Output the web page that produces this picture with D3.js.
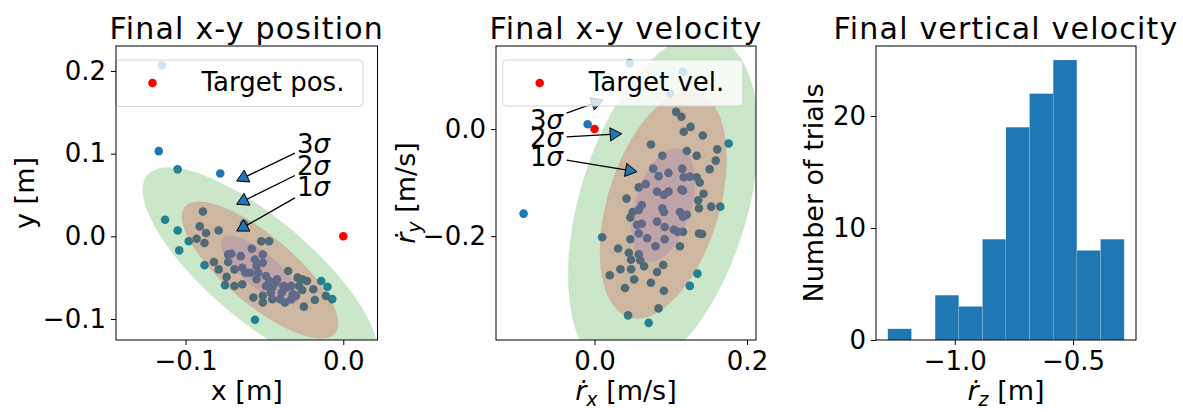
<!DOCTYPE html>
<html>
<head>
<meta charset="utf-8">
<script src="https://cdn.jsdelivr.net/npm/d3@7"></script>
<style>
  body { margin: 0; background: #fff; }
  svg { display: block; font-family: "DejaVu Sans", sans-serif; }
</style>
</head>
<body>
<svg id="fig" width="1183" height="412"></svg>
<script>
// final x-y position of every trial [m]
const posX = [-0.115, -0.117, -0.105, -0.078, -0.113, -0.105, -0.104, -0.098, -0.093, -0.088,
  -0.089, -0.091, -0.087, -0.079, -0.088, -0.082, -0.079, -0.073, -0.074, -0.075,
  -0.069, -0.064, -0.073, -0.071, -0.065, -0.069, -0.062, -0.058, -0.056, -0.051,
  -0.052, -0.047, -0.055, -0.051, -0.054, -0.049, -0.055, -0.049, -0.045, -0.046,
  -0.043, -0.039, -0.040, -0.037, -0.036, -0.035, -0.033, -0.032, -0.029, -0.028,
  -0.026, -0.023, -0.030, -0.033, -0.057, -0.051, -0.051, -0.045, -0.025, -0.019,
  -0.018, -0.014, -0.010, -0.011, -0.007, -0.056, -0.063, -0.026, -0.047, -0.042,
  -0.038, -0.059, -0.064];
const posY = [0.207, 0.103, 0.081, 0.076, 0.020, 0.007, -0.017, -0.006, -0.003, -0.008,
  0.030, 0.012, 0.004, 0.007, -0.035, -0.031, -0.040, -0.031, -0.049, -0.059,
  -0.060, -0.058, -0.022, -0.021, -0.024, -0.040, -0.044, -0.015, -0.028, -0.022,
  -0.006, -0.006, -0.036, -0.032, -0.044, -0.048, -0.052, -0.060, -0.062, -0.068,
  -0.056, -0.068, -0.076, -0.080, -0.062, -0.042, -0.060, -0.070, -0.050, -0.060,
  -0.052, -0.054, -0.072, -0.076, -0.074, -0.072, -0.080, -0.076, -0.085, -0.064,
  -0.077, -0.054, -0.061, -0.072, -0.076, -0.101, 0.015, -0.065, -0.054, -0.052,
  -0.060, -0.044, -0.038];

// final x-y velocity of every trial [m/s]
const velX = [0.046, 0.116, 0.099, -0.009, -0.093, 0.176, 0.107, 0.114, 0.126, 0.117,
  0.142, 0.074, 0.161, 0.121, 0.134, 0.159, 0.089, 0.077, 0.151, 0.115,
  0.097, 0.084, 0.117, 0.125, 0.134, 0.138, 0.067, 0.058, 0.082, 0.097,
  0.114, 0.116, 0.042, 0.143, 0.136, 0.153, 0.165, 0.137, 0.062, 0.058,
  0.050, 0.047, 0.056, 0.062, 0.082, 0.089, 0.091, 0.092, 0.104, 0.112,
  0.116, 0.121, 0.109, 0.116, 0.137, 0.141, 0.092, 0.069, 0.080, 0.112,
  0.047, 0.010, 0.031, 0.045, 0.048, 0.058, 0.060, 0.065, 0.034, 0.048,
  0.020, 0.082, 0.090, 0.052, 0.074, 0.040, 0.091, 0.125, 0.135, 0.084,
  0.044, 0.071, 0.058, 0.091];
const velY = [0.123, 0.107, 0.067, 0.009, -0.158, -0.027, 0.032, 0.023, 0.004, -0.005,
  -0.012, -0.029, -0.038, -0.041, -0.050, -0.059, -0.050, -0.074, -0.075, -0.074,
  -0.082, -0.088, -0.090, -0.089, -0.090, -0.100, -0.103, -0.109, -0.117, -0.117,
  -0.113, -0.115, -0.130, -0.121, -0.133, -0.145, -0.145, -0.148, -0.142, -0.151,
  -0.155, -0.165, -0.179, -0.177, -0.173, -0.148, -0.155, -0.183, -0.188, -0.155,
  -0.164, -0.160, -0.192, -0.192, -0.195, -0.196, -0.206, -0.204, -0.219, -0.219,
  -0.206, -0.202, -0.223, -0.231, -0.244, -0.234, -0.245, -0.256, -0.262, -0.262,
  -0.273, -0.267, -0.254, -0.281, -0.287, -0.297, -0.302, -0.293, -0.270, -0.335,
  -0.348, -0.362, -0.195, -0.123];

const targetPos = [0.0, 0.0];
const targetVel = [0.0, 0.0];

// sigma ellipses (mean, std, correlation)
const posMean = [-0.0528, -0.0408], posStd = [0.0248, 0.0414], posCorr = -0.78;
const velMean = [0.0902, -0.142], velStd = [0.0416, 0.106], velCorr = 0.41;
const sigmas = [3, 2, 1];
const sigmaColors = ["#2ca02c", "#d62728", "#9467bd"];

// annotations: text baseline x,y and arrow tip x,y (data units)
const posNotes = [
  { n: 3, tx: -0.0294, ty: 0.1008, ax: -0.0676, ay: 0.0669 },
  { n: 2, tx: -0.0294, ty: 0.0742, ax: -0.0676, ay: 0.0387 },
  { n: 1, tx: -0.0294, ty: 0.0488, ax: -0.0676, ay: 0.0064 }
];
const velNotes = [
  { n: 3, tx: -0.0846, ty: 0.0, ax: 0.0111, ay: 0.0542 },
  { n: 2, tx: -0.0846, ty: -0.0336, ax: 0.0357, ay: -0.0088 },
  { n: 1, tx: -0.0846, ty: -0.0692, ax: 0.0557, ay: -0.0798 }
];

// histogram of final vertical velocity
const binEdges = [-1.283, -1.183, -1.083, -0.983, -0.883, -0.784, -0.684, -0.584, -0.484, -0.384, -0.284];
const binCounts = [1, 0, 4, 3, 9, 19, 22, 25, 8, 9];

const posTicksX = [-0.1, 0.0], posTicksY = [-0.1, 0.0, 0.1, 0.2];
const velTicksX = [0.0, 0.2], velTicksY = [-0.2, 0.0];
const histTicksX = [-1.0, -0.5], histTicksY = [0, 10, 20];

const C0 = "#1f77b4";
const svg = d3.select("#fig");

function makePanel(id, box, xDom, yDom) {
  const x = d3.scaleLinear().domain(xDom).range([box.l, box.r]);
  const y = d3.scaleLinear().domain(yDom).range([box.b, box.t]);
  svg.append("clipPath").attr("id", id).append("rect")
    .attr("x", box.l).attr("y", box.t)
    .attr("width", box.r - box.l).attr("height", box.b - box.t);
  const plot = svg.append("g").attr("clip-path", `url(#${id})`);
  return { box, x, y, plot };
}

function drawAxes(p, xTicks, yTicks, fmtX, fmtY) {
  const b = p.box;
  svg.append("g")
    .attr("transform", `translate(0,${b.b})`)
    .call(d3.axisBottom(p.x).tickValues(xTicks).tickSize(5).tickPadding(7).tickFormat(fmtX))
    .call(g => g.select(".domain").remove())
    .attr("font-size", 26).attr("font-family", null);
  svg.append("g")
    .attr("transform", `translate(${b.l},0)`)
    .call(d3.axisLeft(p.y).tickValues(yTicks).tickSize(5).tickPadding(5).tickFormat(fmtY))
    .call(g => g.select(".domain").remove())
    .attr("font-size", 26).attr("font-family", null);
  svg.append("rect")
    .attr("x", b.l).attr("y", b.t)
    .attr("width", b.r - b.l).attr("height", b.b - b.t)
    .attr("fill", "none").attr("stroke", "#000").attr("stroke-width", 1);
}

function title(p, txt) {
  svg.append("text")
    .attr("x", (p.box.l + p.box.r) / 2).attr("y", 39)
    .attr("text-anchor", "middle").attr("font-size", 30)
    .attr("letter-spacing", 1.2)
    .text(txt);
}

// rdot with subscript, like $\dot{r}_x$ [m/s]
function rdotLabel(t, sub, unit) {
  t.append("tspan").attr("font-style", "italic").text("\u1E59");
  t.append("tspan").attr("font-style", "italic").attr("font-size", 19).attr("dy", 6).text(sub);
  t.append("tspan").attr("dy", -6).text(" " + unit);
}

function xLabel(p) {
  return svg.append("text")
    .attr("x", (p.box.l + p.box.r) / 2).attr("y", 400)
    .attr("text-anchor", "middle").attr("font-size", 27);
}

function yLabel(p, xpos) {
  return svg.append("text")
    .attr("transform", `translate(${xpos},${(p.box.t + p.box.b) / 2}) rotate(-90)`)
    .attr("text-anchor", "middle").attr("font-size", 27);
}

function scatter(p, xs, ys) {
  p.plot.append("g").selectAll("circle")
    .data(xs.map((v, i) => [v, ys[i]]))
    .join("circle")
    .attr("cx", d => p.x(d[0])).attr("cy", d => p.y(d[1]))
    .attr("r", 4.3).attr("fill", C0);
}

function target(p, pt) {
  p.plot.append("circle")
    .attr("cx", p.x(pt[0])).attr("cy", p.y(pt[1]))
    .attr("r", 4.3).attr("fill", "#ff0000");
}

function ellipses(p, mean, std, corr) {
  const l11 = std[0], l21 = corr * std[1], l22 = std[1] * Math.sqrt(1 - corr * corr);
  const line = d3.line().x(d => p.x(d[0])).y(d => p.y(d[1])).curve(d3.curveLinearClosed);
  sigmas.forEach((n, i) => {
    const pts = d3.range(0, 360, 2).map(a => {
      const t = a * Math.PI / 180, u = n * Math.cos(t), v = n * Math.sin(t);
      return [mean[0] + l11 * u, mean[1] + l21 * u + l22 * v];
    });
    p.plot.append("path").attr("d", line(pts))
      .attr("fill", sigmaColors[i]).attr("fill-opacity", 0.25);
  });
}

function notes(p, list) {
  const g = svg.append("g");
  list.forEach(nt => {
    const t = g.append("text")
      .attr("x", p.x(nt.tx)).attr("y", p.y(nt.ty)).attr("font-size", 26);
    t.append("tspan").text(nt.n);
    t.append("tspan").attr("font-style", "italic").text("\u03C3");
    const bb = t.node().getBBox();
    const cx = bb.x + bb.width / 2, cy = bb.y + bb.height / 2;
    const hw = bb.width / 2 + 2, hh = bb.height / 2 + 2;
    const tipX = p.x(nt.ax), tipY = p.y(nt.ay);
    const dx = tipX - cx, dy = tipY - cy;
    const s = Math.min(hw / Math.abs(dx), hh / Math.abs(dy));
    const sx = cx + s * dx, sy = cy + s * dy;
    const len = Math.hypot(tipX - sx, tipY - sy);
    const ux = (tipX - sx) / len, uy = (tipY - sy) / len;
    const hl = 11.5, hwid = 6.6;
    const bx = tipX - ux * hl, by = tipY - uy * hl;
    g.append("line")
      .attr("x1", sx).attr("y1", sy).attr("x2", bx).attr("y2", by)
      .attr("stroke", "#000").attr("stroke-width", 1.3);
    g.append("path")
      .attr("d", `M${tipX},${tipY}L${bx - uy * hwid},${by + ux * hwid}L${bx + uy * hwid},${by - ux * hwid}Z`)
      .attr("fill", C0).attr("stroke", "#000").attr("stroke-width", 1);
  });
}

function legend(x, y, w, h, label) {
  const g = svg.append("g");
  g.append("rect")
    .attr("x", x).attr("y", y).attr("width", w).attr("height", h).attr("rx", 4)
    .attr("fill", "#fff").attr("fill-opacity", 0.8)
    .attr("stroke", "#cccccc").attr("stroke-opacity", 0.8).attr("stroke-width", 1);
  g.append("circle").attr("cx", x + 37).attr("cy", y + 23).attr("r", 4.3).attr("fill", "#ff0000");
  g.append("text").attr("x", x + 86).attr("y", y + 31).attr("font-size", 26).text(label);
}

// ---- panel 1: position ----
const p1 = makePanel("c1", { l: 116, r: 377.5, t: 46, b: 340 }, [-0.1441, 0.0217], [-0.1254, 0.2302]);
scatter(p1, posX, posY);
target(p1, targetPos);
ellipses(p1, posMean, posStd, posCorr);
notes(p1, posNotes);
legend(115.5, 60, 247.5, 46.5, "Target pos.");
drawAxes(p1, posTicksX, posTicksY, d3.format(".1f"), d3.format(".1f"));
title(p1, "Final x-y position");
xLabel(p1).text("x [m]");
yLabel(p1, 34).text("y [m]");

// ---- panel 2: velocity ----
const p2 = makePanel("c2", { l: 496, r: 756, t: 46, b: 340 }, [-0.1292, 0.2118], [-0.394, 0.155]);
scatter(p2, velX, velY);
target(p2, targetVel);
ellipses(p2, velMean, velStd, velCorr);
notes(p2, velNotes);
legend(502.7, 60, 240, 46, "Target vel.");
drawAxes(p2, velTicksX, velTicksY, d3.format(".1f"), d3.format(".1f"));
title(p2, "Final x-y velocity");
rdotLabel(xLabel(p2), "x", "[m/s]");
rdotLabel(yLabel(p2, 415), "y", "[m/s]");

// ---- panel 3: vertical velocity histogram ----
const p3 = makePanel("c3", { l: 876, r: 1136, t: 46, b: 340 }, [-1.333, -0.234], [0, 26.25]);
p3.plot.append("g").selectAll("rect")
  .data(binCounts.map((c, i) => ({ c, x0: binEdges[i], x1: binEdges[i + 1] })).filter(d => d.c > 0))
  .join("rect")
  .attr("x", d => p3.x(d.x0)).attr("width", d => p3.x(d.x1) - p3.x(d.x0))
  .attr("y", d => p3.y(d.c)).attr("height", d => p3.y(0) - p3.y(d.c))
  .attr("fill", C0).attr("stroke", "#fff").attr("stroke-opacity", 0.25).attr("stroke-width", 0.6);
drawAxes(p3, histTicksX, histTicksY, d3.format(".1f"), d3.format("d"));
title(p3, "Final vertical velocity");
rdotLabel(xLabel(p3), "z", "[m]");
yLabel(p3, 823).text("Number of trials");
</script>
</body>
</html>
